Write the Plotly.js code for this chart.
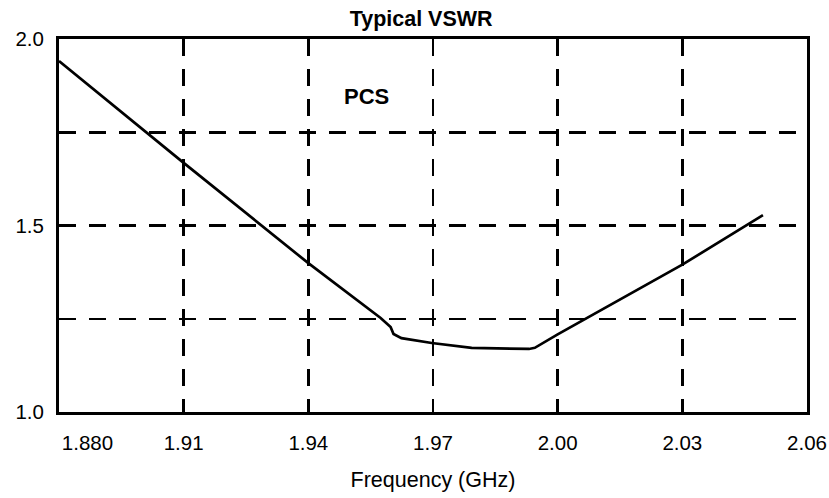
<!DOCTYPE html>
<html>
<head>
<meta charset="utf-8">
<script src="https://cdn.plot.ly/plotly-3.0.1.min.js"></script>
<style>html,body{margin:0;padding:0;background:#fff;}#chart{width:829px;height:498px;}</style>
</head>
<body>
<div id="chart"></div>
<script>
// Frequency (GHz) and VSWR values
var freqGHz = [1.880, 1.910, 1.940, 1.9574, 1.9598, 1.9605, 1.9624, 1.9697, 1.9793, 1.9931, 1.9945, 2.0000, 2.0300, 2.0494];
var vswr    = [1.941, 1.668, 1.399, 1.252, 1.228, 1.209, 1.198, 1.185, 1.172, 1.169, 1.172, 1.208, 1.395, 1.528];

var xTickVals = [1.88, 1.91, 1.94, 1.97, 2.00, 2.03, 2.06];
var xTickText = ["1.880", "1.91", "1.94", "1.97", "2.00", "2.03", "2.06"];
var yTickVals = [1.0, 1.25, 1.5, 1.75, 2.0];
var yTickText = ["1.0", "", "1.5", "", "2.0"];

var chartTitle = "Typical VSWR";
var xTitle = "Frequency (GHz)";
var bandLabel = "PCS";

// pad first label so it starts at the axis origin as in the reference
var padded = xTickText.slice();
padded[0] = "\u00a0\u00a0\u00a0\u00a0\u00a0\u00a0\u00a0\u00a0\u00a0\u00a0" + padded[0];

var font = "Liberation Sans, Arial, sans-serif";

var trace = {
  x: freqGHz, y: vswr, type: "scatter", mode: "lines",
  line: {color: "#000", width: 2.7}, hoverinfo: "skip"
};

var layout = {
  width: 829, height: 498,
  margin: {l: 59, r: 22, t: 39, b: 86},
  paper_bgcolor: "#fff", plot_bgcolor: "#fff",
  showlegend: false,
  font: {family: font, color: "#000", size: 20},
  title: {text: "<b>" + chartTitle + "</b>", font: {family: font, size: 21.5, color: "#000"},
          x: 0.508, xanchor: "center", y: 0.978, yanchor: "top"},
  xaxis: {
    range: [1.88, 2.06], tickvals: xTickVals, ticktext: padded,
    showline: true, mirror: true, linecolor: "#000", linewidth: 3,
    showgrid: true, gridcolor: "#000", gridwidth: 2.5, griddash: "17px,13px",
    zeroline: false, ticks: "", ticklabelstandoff: 10,
    tickfont: {family: font, size: 20.5, color: "#000"},
    title: {text: xTitle, font: {family: font, size: 21.5, color: "#000"}, standoff: 20}
  },
  yaxis: {
    range: [1.0, 2.0], tickvals: yTickVals, ticktext: yTickText,
    showline: true, mirror: true, linecolor: "#000", linewidth: 3,
    showgrid: true, gridcolor: "#000", gridwidth: 2.5, griddash: "17px,13px",
    zeroline: false, ticks: "", ticklabelstandoff: 8,
    tickfont: {family: font, size: 20.5, color: "#000"}
  },
  annotations: [{
    text: "<b>" + bandLabel + "</b>", x: 1.954, y: 1.845, xref: "x", yref: "y",
    showarrow: false, font: {family: font, size: 22, color: "#000"}
  }]
};

Plotly.newPlot("chart", [trace], layout, {staticPlot: true, displayModeBar: false});
</script>
</body>
</html>
